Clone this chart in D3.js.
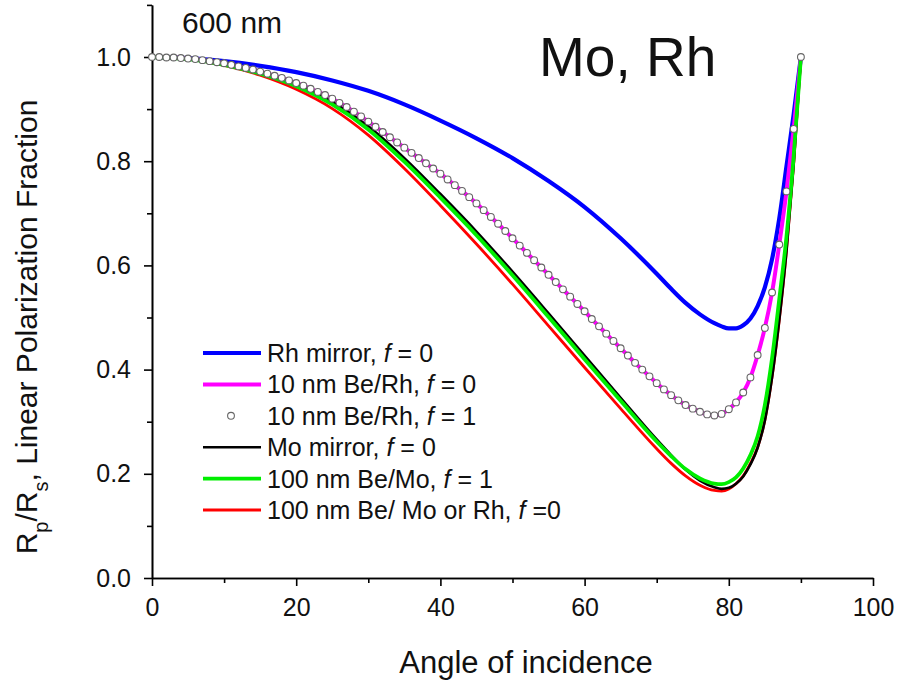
<!DOCTYPE html>
<html>
<head>
<meta charset="utf-8">
<script src="https://cdn.jsdelivr.net/npm/d3@7"></script>
<style>
  body { margin: 0; background: #fff; }
  svg { font-family: Arial, "Liberation Sans", sans-serif; }
</style>
</head>
<body>
<div id="chart"></div>
<script>
const angles = [0, 5, 10, 15, 20, 25, 30, 35, 40, 45, 50, 55, 60, 65, 70, 72, 74, 76, 78, 79, 80, 81, 82, 83, 84, 85, 86, 87, 88, 89, 90];

const rhMirror = [1.000, 0.998, 0.992, 0.983, 0.971, 0.955, 0.935, 0.909, 0.878, 0.844, 0.806, 0.762, 0.712, 0.652, 0.584, 0.555, 0.528, 0.506, 0.489, 0.483, 0.479, 0.479, 0.485, 0.498, 0.522, 0.558, 0.612, 0.690, 0.790, 0.890, 1.000];
const moMirror = [1.000, 0.997, 0.987, 0.971, 0.948, 0.914, 0.867, 0.806, 0.737, 0.665, 0.588, 0.508, 0.427, 0.346, 0.266, 0.236, 0.208, 0.187, 0.174, 0.171, 0.173, 0.181, 0.195, 0.218, 0.250, 0.302, 0.385, 0.495, 0.628, 0.795, 1.000];
const beMo100f1 = [1.000, 0.996, 0.985, 0.968, 0.944, 0.909, 0.861, 0.799, 0.730, 0.658, 0.581, 0.501, 0.420, 0.340, 0.262, 0.234, 0.209, 0.191, 0.181, 0.180, 0.184, 0.193, 0.210, 0.236, 0.272, 0.332, 0.422, 0.535, 0.655, 0.810, 1.000];
const be100f0 = [1.000, 0.996, 0.984, 0.965, 0.938, 0.901, 0.850, 0.786, 0.715, 0.641, 0.564, 0.484, 0.404, 0.325, 0.248, 0.220, 0.196, 0.178, 0.168, 0.167, 0.171, 0.181, 0.196, 0.220, 0.251, 0.303, 0.386, 0.495, 0.628, 0.795, 1.000];

// 10 nm Be/Rh: markers every degree (f = 1), same values carry the f = 0 line
const degAngles = [0, 1, 2, 3, 4, 5, 6, 7, 8, 9, 10, 11, 12, 13, 14, 15, 16, 17, 18, 19, 20, 21, 22, 23, 24, 25, 26, 27, 28, 29, 30, 31, 32, 33, 34, 35, 36, 37, 38, 39, 40, 41, 42, 43, 44, 45, 46, 47, 48, 49, 50, 51, 52, 53, 54, 55, 56, 57, 58, 59, 60, 61, 62, 63, 64, 65, 66, 67, 68, 69, 70, 71, 72, 73, 74, 75, 76, 77, 78, 79, 80, 81, 82, 83, 84, 85, 86, 87, 88, 89, 90];
const beRh10 = [1.000, 1.000, 0.999, 0.999, 0.998, 0.997, 0.996, 0.994, 0.992, 0.990,
  0.988, 0.985, 0.982, 0.979, 0.976, 0.972, 0.968, 0.964, 0.960, 0.955,
  0.950, 0.945, 0.939, 0.933, 0.927, 0.920, 0.912, 0.904, 0.895, 0.886,
  0.876, 0.866, 0.856, 0.846, 0.836, 0.826, 0.816, 0.806, 0.796, 0.786,
  0.776, 0.765, 0.754, 0.743, 0.731, 0.719, 0.706, 0.693, 0.680, 0.666,
  0.652, 0.638, 0.624, 0.610, 0.596, 0.582, 0.568, 0.554, 0.540, 0.526,
  0.512, 0.497, 0.483, 0.469, 0.455, 0.441, 0.427, 0.413, 0.400, 0.387,
  0.374, 0.362, 0.351, 0.341, 0.332, 0.325, 0.319, 0.314, 0.312, 0.315,
  0.324, 0.337, 0.356, 0.385, 0.428, 0.480, 0.548, 0.640, 0.742, 0.862, 1.000];

const xMajor = [0, 20, 40, 60, 80, 100];
const xMinor = [10, 30, 50, 70, 90];
const yMajor = [0.0, 0.2, 0.4, 0.6, 0.8, 1.0];
const yMinor = [0.1, 0.3, 0.5, 0.7, 0.9, 1.1];

const legendLabels = ["Rh mirror, ", "10 nm Be/Rh, ", "10 nm Be/Rh, ", "Mo mirror, ", "100 nm Be/Mo, ", "100 nm Be/ Mo or Rh, "];
const legendF = [" = 0", " = 0", " = 1", " = 0", " = 1", " =0"];

const width = 899, height = 688;

const svg = d3.select("#chart")
    .append("svg")
    .attr("width", width)
    .attr("height", height);

const x = d3.scaleLinear().domain([0, 100]).range([152, 873]);
const y = d3.scaleLinear().domain([0, 1.1]).range([578, 4.9]);

// axes
const yAxis = svg.append("g")
    .attr("transform", `translate(${x(0)},0)`)
    .call(d3.axisLeft(y).tickValues(yMajor).tickSize(8).tickSizeOuter(0).tickFormat(d3.format(".1f")));
svg.append("g")
    .attr("transform", `translate(${x(0)},0)`)
    .call(d3.axisLeft(y).tickValues(yMinor).tickSize(5).tickSizeOuter(0).tickFormat(""));

const xAxis = svg.append("g")
    .attr("transform", `translate(0,${y(0)})`)
    .call(d3.axisBottom(x).tickValues(xMajor).tickSize(8).tickSizeOuter(0));
svg.append("g")
    .attr("transform", `translate(0,${y(0)})`)
    .call(d3.axisBottom(x).tickValues(xMinor).tickSize(5).tickSizeOuter(0).tickFormat(""));

svg.selectAll(".domain, .tick line")
    .attr("stroke", "#000")
    .attr("stroke-width", 1.6);

yAxis.selectAll("text")
    .attr("x", -21)
    .style("font-size", "25px")
    .style("font-family", "Arial, 'Liberation Sans', sans-serif")
    .attr("fill", "#111");
xAxis.selectAll("text")
    .attr("y", 20)
    .style("font-size", "25px")
    .style("font-family", "Arial, 'Liberation Sans', sans-serif")
    .attr("fill", "#111");

// curves
const line = d3.line()
    .x(d => x(d[0]))
    .y(d => y(d[1]))
    .curve(d3.curveMonotoneX);

const pairs = vals => angles.map((a, i) => [a, vals[i]]);
const degPairs = degAngles.map((a, i) => [a, beRh10[i]]);

const series = [
    { data: pairs(rhMirror), color: "#0000ff", w: 4.2 },
    { data: degPairs, color: "#ff00ff", w: 4 },
    { data: pairs(be100f0), color: "#ff0000", w: 2.8 },
    { data: pairs(moMirror), color: "#000000", w: 2.6 },
    { data: pairs(beMo100f1), color: "#00ee00", w: 3.8 }
];

svg.append("g")
    .selectAll("path")
    .data(series)
    .enter().append("path")
    .attr("d", d => line(d.data))
    .attr("fill", "none")
    .attr("stroke", d => d.color)
    .attr("stroke-width", d => d.w);

svg.append("g")
    .selectAll("circle")
    .data(degPairs)
    .enter().append("circle")
    .attr("cx", d => x(d[0]))
    .attr("cy", d => y(d[1]))
    .attr("r", 3.4)
    .attr("fill", "#fff")
    .attr("stroke", "#666")
    .attr("stroke-width", 1.1);

// legend
const legendColors = ["#0000ff", "#ff00ff", null, "#000000", "#00ee00", "#ff0000"];
const legendW = [4.2, 4, 0, 2.6, 3.8, 2.8];
const legend = svg.append("g");
legendLabels.forEach((lab, i) => {
    const ly = 353 + i * 31.4;
    if (legendColors[i]) {
        legend.append("line")
            .attr("x1", 203).attr("x2", 261)
            .attr("y1", ly).attr("y2", ly)
            .attr("stroke", legendColors[i])
            .attr("stroke-width", legendW[i]);
    } else {
        legend.append("circle")
            .attr("cx", 231).attr("cy", ly).attr("r", 3.4)
            .attr("fill", "#fff").attr("stroke", "#666").attr("stroke-width", 1.1);
    }
    const t = legend.append("text")
        .attr("x", 267)
        .attr("y", ly + 9)
        .style("font-size", "25px")
        .attr("fill", "#111");
    t.append("tspan").text(lab);
    t.append("tspan").style("font-style", "italic").text("f");
    t.append("tspan").text(legendF[i]);
});

// annotations
svg.append("text")
    .attr("x", 182).attr("y", 33)
    .style("font-size", "30px")
    .attr("fill", "#111")
    .text("600 nm");

svg.append("text")
    .attr("x", 539).attr("y", 76)
    .style("font-size", "55px")
    .attr("fill", "#111")
    .text("Mo, Rh");

// axis titles
svg.append("text")
    .attr("x", 526).attr("y", 673)
    .attr("text-anchor", "middle")
    .style("font-size", "31px")
    .attr("fill", "#111")
    .text("Angle of incidence");

const yt = svg.append("text")
    .attr("transform", "translate(37,327) rotate(-90)")
    .attr("text-anchor", "middle")
    .style("font-size", "30px")
    .attr("fill", "#111");
yt.append("tspan").text("R");
yt.append("tspan").attr("baseline-shift", "sub").style("font-size", "20px").text("p");
yt.append("tspan").text("/R");
yt.append("tspan").attr("baseline-shift", "sub").style("font-size", "20px").text("s");
yt.append("tspan").text(", Linear Polarization Fraction");
</script>
</body>
</html>
